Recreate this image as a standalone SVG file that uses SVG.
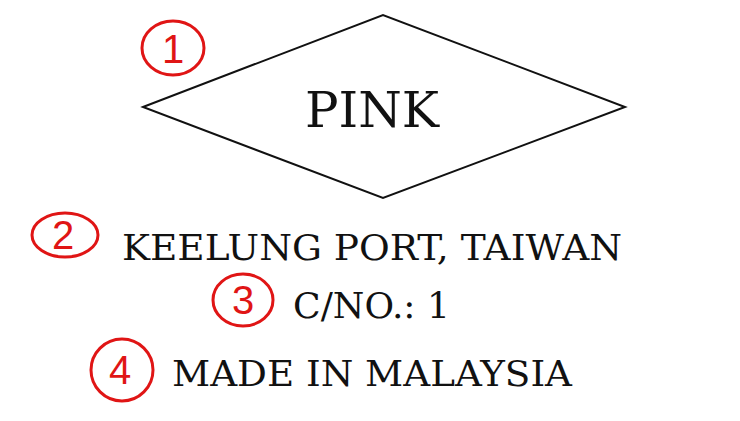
<svg xmlns="http://www.w3.org/2000/svg" width="740" height="421" viewBox="0 0 740 421">
<style>
.t{font-family:"DejaVu Serif","Liberation Serif",serif;fill:#111}
.c{fill:none;stroke:#e01515;stroke-width:3;stroke-linecap:round}
.n{font-family:"Liberation Sans",sans-serif;fill:#e01515;font-size:40px;text-anchor:middle}
</style>
<rect width="740" height="421" fill="#fff"/>
<g id="diamond">
<polygon points="143,107 383,15 625,107 383,198" fill="none" stroke="#111" stroke-width="2"/>
<text class="t" x="372" y="127" font-size="48" text-anchor="middle" textLength="134" lengthAdjust="spacingAndGlyphs">PINK</text>
</g>
<g id="line2"><text class="t" x="122" y="260" font-size="36" textLength="500" lengthAdjust="spacingAndGlyphs">KEELUNG PORT, TAIWAN</text></g>
<g id="line3"><text class="t" x="293" y="318" font-size="36" textLength="157" lengthAdjust="spacingAndGlyphs">C/NO.: 1</text></g>
<g id="line4"><text class="t" x="172" y="386" font-size="36" textLength="400" lengthAdjust="spacingAndGlyphs">MADE IN MALAYSIA</text></g>
<g id="m1"><ellipse class="c" cx="173" cy="48" rx="31" ry="27"/><text class="n" x="173" y="63">1</text></g>
<g id="m2"><ellipse class="c" cx="65" cy="235" rx="33" ry="22"/><text class="n" x="63" y="249">2</text></g>
<g id="m3"><ellipse class="c" cx="243" cy="300" rx="30" ry="26"/><text class="n" x="243" y="314">3</text></g>
<g id="m4"><ellipse class="c" cx="122" cy="370" rx="31" ry="31"/><text class="n" x="120" y="384">4</text></g>
</svg>
